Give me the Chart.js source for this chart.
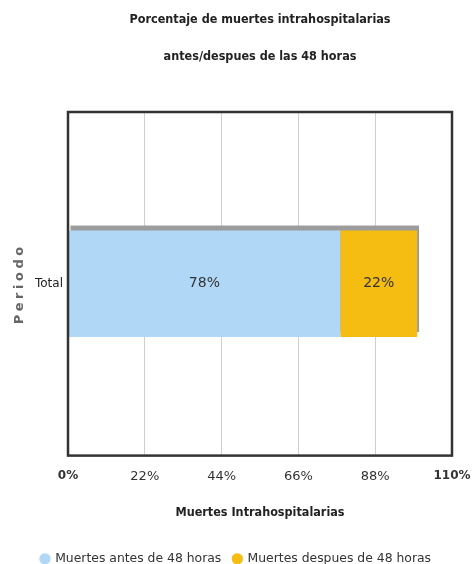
<!DOCTYPE html>
<html><head><meta charset="utf-8">
<script src="https://cdn.jsdelivr.net/npm/chart.js@4/dist/chart.umd.min.js"></script>
<style>html,body{margin:0;padding:0;background:#fff;}canvas{display:block;}</style>
</head><body>
<canvas id="c" width="472" height="564"></canvas>
<script>
const categories = ['Total'];
const antes = [78];
const despues = [22];
const seriesNames = ['Muertes antes de 48 horas', 'Muertes despues de 48 horas'];
const xTicks = [0, 22, 44, 66, 88, 110];
const titleLines = ['Porcentaje de muertes intrahospitalarias', 'antes/despues de las 48 horas'];
const xTitle = 'Muertes Intrahospitalarias';
const yTitle = 'Periodo';

// pick a narrow family for the bold headings and size it to the reference width
const mctx = document.createElement('canvas').getContext('2d');
function w(font, txt) { mctx.font = font; return mctx.measureText(txt).width; }
function hasFont(fam) {
  return ['monospace', 'serif'].some(fb =>
    w('bold 40px "' + fam + '", ' + fb, titleLines[0]) !== w('bold 40px ' + fb, titleLines[0]));
}
const headFamily = ['Liberation Sans Narrow', 'DejaVu Sans Condensed', 'Liberation Sans'].find(hasFont) || 'Liberation Sans';
const headSize = Math.min(15, Math.round(10 * 266 / w('bold 10px "' + headFamily + '"', titleLines[0]) * 2) / 2);

const shadowPlugin = {
  id: 'barShadow',
  beforeDatasetsDraw(chart) {
    const ctx = chart.ctx, a = chart.chartArea;
    const m0 = chart.getDatasetMeta(0), m1 = chart.getDatasetMeta(1);
    m0.data.forEach((el0, i) => {
      const el1 = m1.data[i];
      const left = Math.min(el0.base, el0.x);
      const right = Math.max(el1.x, el1.base);
      const top = el0.y - el0.height / 2;
      ctx.save();
      ctx.beginPath(); ctx.rect(a.left, a.top, a.right - a.left, a.bottom - a.top); ctx.clip();
      ctx.fillStyle = '#9c9c9c';
      ctx.fillRect(left + 2, top - 5, right - left, el0.height);
      ctx.restore();
    });
  }
};
const valueLabels = {
  id: 'valueLabels',
  afterDatasetsDraw(chart) {
    const ctx = chart.ctx;
    ctx.save();
    ctx.font = '14px "DejaVu Sans"';
    ctx.fillStyle = '#333';
    ctx.textAlign = 'center';
    ctx.textBaseline = 'middle';
    chart.data.datasets.forEach((ds, di) => {
      chart.getDatasetMeta(di).data.forEach((el, i) => {
        ctx.fillText(ds.data[i] + '%', (el.x + el.base) / 2, el.y);
      });
    });
    ctx.restore();
  }
};
const frame = {
  id: 'frame',
  afterDatasetsDraw(chart) {
    const ctx = chart.ctx, a = chart.chartArea;
    ctx.save();
    ctx.strokeStyle = '#333';
    ctx.lineWidth = 2.5;
    ctx.strokeRect(a.left, a.top, a.right - a.left, a.bottom - a.top);
    ctx.restore();
  }
};
const spacedTitle = {
  id: 'spacedTitle',
  beforeDraw(chart) {
    const s = chart.scales.y;
    if (s && !s._spaced) {
      const orig = s.drawTitle.bind(s);
      s.drawTitle = function () {
        chart.ctx.save();
        chart.ctx.letterSpacing = '3.5px';
        orig();
        chart.ctx.restore();
      };
      s._spaced = true;
    }
  }
};

new Chart(document.getElementById('c'), {
  type: 'bar',
  data: {
    labels: categories,
    datasets: [
      { label: seriesNames[0], data: antes, backgroundColor: '#b0d8f6', borderWidth: 0 },
      { label: seriesNames[1], data: despues, backgroundColor: '#f5bd12', borderWidth: 0 }
    ]
  },
  options: {
    indexAxis: 'y',
    responsive: false,
    animation: false,
    layout: { padding: { top: 0, left: 0, right: 0, bottom: -11 } },
    datasets: { bar: { categoryPercentage: 1, barPercentage: 0.31 } },
    scales: {
      x: {
        stacked: true, min: 0, max: 110,
        afterBuildTicks: s => { s.ticks = xTicks.map(v => ({ value: v })); },
        afterFit: s => { s.height = 85; s.paddingLeft = 0; s.paddingRight = 20; },
        grid: { color: '#cfcfcf', lineWidth: 1, drawTicks: false },
        border: { display: false },
        ticks: {
          padding: 13, color: '#333',
          callback: v => v + '%',
          font: c => (c.index === 0 || c.index === xTicks.length - 1)
            ? { family: 'DejaVu Sans', size: 12, weight: 'bold' }
            : { family: 'DejaVu Sans', size: 13, weight: 'normal' }
        },
        title: { display: true, text: xTitle, color: '#222', padding: { top: 0, bottom: 19.6 },
          font: { family: headFamily, size: headSize, weight: 'bold', lineHeight: 16.8 / headSize } }
      },
      y: {
        stacked: true,
        afterFit: s => { s.width = 68; },
        grid: { display: false, drawTicks: false },
        border: { display: false },
        ticks: { padding: 5, color: '#222', font: { family: 'DejaVu Sans', size: 12 } },
        title: { display: true, text: yTitle, color: '#666', padding: { top: 12, bottom: 0 },
          font: { family: 'DejaVu Sans', size: 13, weight: 'bold' } }
      }
    },
    plugins: {
      title: {
        display: true, text: titleLines, fullSize: false, color: '#222',
        padding: { top: 1.5, bottom: 36.5 },
        font: { family: headFamily, size: headSize, weight: 'bold', lineHeight: 37 / headSize }
      },
      legend: {
        position: 'bottom',
        labels: { usePointStyle: true, pointStyle: 'circle', boxWidth: 8, boxHeight: 8, padding: 12,
          color: '#333', font: { family: 'DejaVu Sans', size: 12.4 } }
      },
      tooltip: { enabled: false }
    }
  },
  plugins: [spacedTitle, shadowPlugin, valueLabels, frame]
});
</script>
</body></html>
